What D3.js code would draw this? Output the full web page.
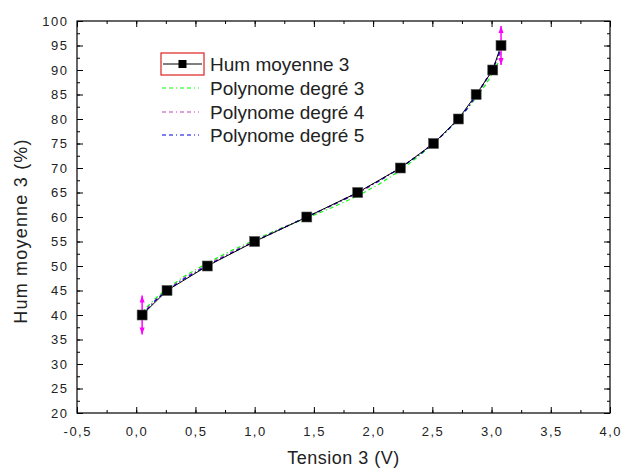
<!DOCTYPE html>
<html>
<head>
<meta charset="utf-8">
<script src="https://cdn.jsdelivr.net/npm/d3@7"></script>
<style>
  html, body { margin: 0; padding: 0; background: #fff; }
  svg { display: block; font-family: "Liberation Sans", Arial, sans-serif; }
</style>
</head>
<body>
<svg id="chart" width="623" height="469"></svg>
<script>
// Measured humidity vs. sensor voltage
const tension = [0.05, 0.26, 0.60, 1.00, 1.44, 1.87, 2.23, 2.51, 2.72, 2.87, 3.01, 3.08];
const humidite = [40, 45, 50, 55, 60, 65, 70, 75, 80, 85, 90, 95];
// error bars only on the two end points
const erreurIdx = [0, 11];
const erreur = [4, 4];

// Polynomial fit curves, sampled along the voltage range
const fitX = [0.05, 0.15, 0.26, 0.40, 0.60, 0.80, 1.00, 1.20, 1.44, 1.65, 1.87, 2.05, 2.23, 2.40, 2.51, 2.62, 2.72, 2.80, 2.87, 2.95, 3.01, 3.05, 3.08];
const poly3 = [40.6, 43.1, 45.4, 47.8, 50.6, 53.1, 55.3, 57.5, 59.8, 61.9, 64.3, 66.7, 69.5, 72.7, 75.0, 77.5, 80.0, 82.2, 84.4, 87.0, 89.4, 91.2, 92.8];
const poly4 = [40.2, 42.8, 45.1, 47.5, 50.3, 52.8, 55.1, 57.4, 60.0, 62.3, 64.8, 67.3, 70.0, 73.0, 75.1, 77.5, 80.0, 82.3, 84.7, 87.7, 90.2, 92.1, 93.7];
const poly5 = [40.0, 42.7, 45.0, 47.3, 50.1, 52.6, 55.0, 57.3, 60.0, 62.4, 65.0, 67.4, 70.0, 72.9, 75.0, 77.5, 80.0, 82.3, 84.8, 87.9, 90.3, 92.5, 94.3];

const xTicks = [-0.5, 0, 0.5, 1, 1.5, 2, 2.5, 3, 3.5, 4];
const yTicks = [20, 25, 30, 35, 40, 45, 50, 55, 60, 65, 70, 75, 80, 85, 90, 95, 100];

const legendLabels = ["Hum moyenne 3", "Polynome degré 3", "Polynome degré 4", "Polynome degré 5"];
const fitColors = ["#00ff00", "#c040c0", "#0000e0"];

const svg = d3.select("#chart");
const L = 77, T = 21, R = 610, B = 413;

const x = d3.scaleLinear().domain([-0.5, 4]).range([L, R]);
const y = d3.scaleLinear().domain([20, 100]).range([B, T]);

// comma decimal separator and plain hyphen for negatives
const fmt = v => d3.format(".1f")(v).replace(".", ",").replace("\u2212", "-");

// axes with inward ticks
const xMinor = d3.range(-0.5, 4.001, 0.25);
const yMinor = d3.range(20, 100.001, 2.5);

function addAxis(axis, tx, ty) {
  return svg.append("g").attr("transform", `translate(${tx},${ty})`).call(axis)
    .call(g => g.select(".domain").remove());
}

// bottom
addAxis(d3.axisTop(x).tickValues(xMinor).tickSize(3).tickFormat(""), 0, B);
addAxis(d3.axisTop(x).tickValues(xTicks).tickSize(6).tickFormat(""), 0, B);
svg.append("g").selectAll("text").data(xTicks).join("text")
  .attr("x", d => x(d) + 0.75).attr("y", 436)
  .attr("text-anchor", "middle").attr("font-size", 13).attr("fill", "#222")
  .style("letter-spacing", "1.5px")
  .text(fmt);
// top
addAxis(d3.axisBottom(x).tickValues(xMinor).tickSize(3).tickFormat(""), 0, T);
addAxis(d3.axisBottom(x).tickValues(xTicks).tickSize(6).tickFormat(""), 0, T);
// left
addAxis(d3.axisRight(y).tickValues(yMinor).tickSize(3).tickFormat(""), L, 0);
addAxis(d3.axisRight(y).tickValues(yTicks).tickSize(6).tickFormat(""), L, 0);
svg.append("g").selectAll("text").data(yTicks).join("text")
  .attr("x", 68.5).attr("y", d => y(d) + 4.5)
  .attr("text-anchor", "end").attr("font-size", 13).attr("fill", "#222")
  .style("letter-spacing", "1.5px")
  .text(d => d);
// right
addAxis(d3.axisLeft(y).tickValues(yMinor).tickSize(3).tickFormat(""), R, 0);
addAxis(d3.axisLeft(y).tickValues(yTicks).tickSize(6).tickFormat(""), R, 0);

svg.selectAll(".tick line").attr("stroke", "#000");

// frame
svg.append("rect").attr("x", L).attr("y", T).attr("width", R - L).attr("height", B - T)
  .attr("fill", "none").attr("stroke", "#000").attr("stroke-width", 1.2);

// axis titles
svg.append("text").attr("x", (L + R) / 2).attr("y", 464)
  .attr("text-anchor", "middle").attr("font-size", 18).attr("fill", "#222")
  .style("letter-spacing", "0.5px")
  .text("Tension 3 (V)");
svg.append("text").attr("transform", "translate(27,231) rotate(-90)")
  .attr("text-anchor", "middle").attr("font-size", 18).attr("fill", "#222")
  .style("letter-spacing", "1.2px")
  .text("Hum moyenne 3 (%)");

// fit curves
const dash = "4,3,4,3,1,3";
const line = d3.line().x(d => x(d[0])).y(d => y(d[1]));
[poly3, poly4, poly5].forEach((ys, i) => {
  svg.append("path").datum(fitX.map((v, j) => [v, ys[j]]))
    .attr("d", line).attr("fill", "none")
    .attr("stroke", fitColors[i]).attr("stroke-width", 1.2)
    .attr("stroke-dasharray", dash);
});

// data line
svg.append("path").datum(tension.map((v, j) => [v, humidite[j]]))
  .attr("d", line).attr("fill", "none").attr("stroke", "#000").attr("stroke-width", 1);

// error bars with arrow heads
erreurIdx.forEach((idx, k) => {
  const cx = x(tension[idx]);
  const y0 = y(humidite[idx] - erreur[k]), y1 = y(humidite[idx] + erreur[k]);
  const g = svg.append("g").attr("fill", "#ff00ff").attr("stroke", "#ff00ff");
  g.append("line").attr("x1", cx).attr("x2", cx).attr("y1", y0).attr("y2", y1).attr("stroke-width", 1.5);
  g.append("path").attr("stroke", "none")
    .attr("d", `M${cx},${y1} l-2.5,7 l5,0 Z M${cx},${y0} l-2.5,-7 l5,0 Z`);
});

// markers
svg.append("g").selectAll("rect").data(tension.map((v, j) => [v, humidite[j]])).join("rect")
  .attr("x", d => x(d[0]) - 5).attr("y", d => y(d[1]) - 5)
  .attr("width", 10).attr("height", 10)
  .attr("fill", "#000").attr("stroke", "#555").attr("stroke-width", 0.6);

// legend
const lg = svg.append("g");
const rowY = [64, 88, 112, 135];
lg.append("rect").attr("x", 161).attr("y", 53).attr("width", 43).attr("height", 22)
  .attr("fill", "none").attr("stroke", "#e02020").attr("stroke-width", 1.2);
lg.append("line").attr("x1", 163).attr("x2", 202).attr("y1", rowY[0]).attr("y2", rowY[0])
  .attr("stroke", "#000").attr("stroke-width", 1);
lg.append("rect").attr("x", 178.5).attr("y", rowY[0] - 4).attr("width", 8).attr("height", 8)
  .attr("fill", "#000");
fitColors.forEach((c, i) => {
  lg.append("line").attr("x1", 162).attr("x2", 199).attr("y1", rowY[i + 1]).attr("y2", rowY[i + 1])
    .attr("stroke", c).attr("stroke-width", 1.2).attr("stroke-dasharray", dash);
});
lg.selectAll("text").data(legendLabels).join("text")
  .attr("x", 210).attr("y", (d, i) => rowY[i] + 7)
  .attr("font-size", 19).attr("fill", "#222")
  .text(d => d);
</script>
</body>
</html>
